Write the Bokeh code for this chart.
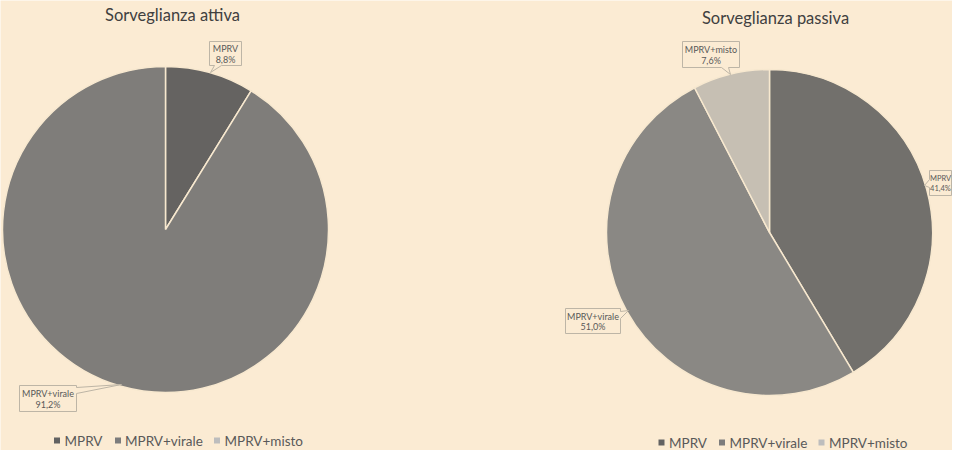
import math
from bokeh.plotting import figure
from bokeh.models import Range1d, ColumnDataSource
from bokeh.core.properties import value
from bokeh.embed import file_html
from bokeh.resources import INLINE

# ---------------- data ----------------
categories = ["MPRV", "MPRV+virale", "MPRV+misto"]
attiva = [8.8, 91.2, 0.0]
passiva = [41.4, 51.0, 7.6]
titles = ["Sorveglianza attiva", "Sorveglianza passiva"]

# ---------------- style ----------------
BG = "#fbebd3"
colors_attiva = ["#656361", "#7f7d7a", "#c6bfb3"]
colors_passiva = ["#72706c", "#8a8884", "#c6bfb3"]
legend_colors = ["#626262", "#7c7c7c", "#bdbdbd"]
TXT = "#595959"
FONT = "Lato"

W, H = 952, 450


def Y(pix):
    return 466 - pix


p = figure(width=W, height=H, output_backend="svg", toolbar_location=None,
           x_range=Range1d(8, 960), y_range=Range1d(8, 458),
           background_fill_color=BG, border_fill_color=BG, min_border=0)
p.axis.visible = False
p.grid.visible = False
p.outline_line_color = None


def pie(cx, cy, r, vals, cols):
    total = sum(vals)
    starts, ends, cc = [], [], []
    cum = 0.0
    for v, c in zip(vals, cols):
        c0 = cum / total
        cum += v
        c1 = cum / total
        if v <= 0:
            continue
        starts.append(math.pi / 2 - 2 * math.pi * c1)
        ends.append(math.pi / 2 - 2 * math.pi * c0)
        cc.append(c)
    src = ColumnDataSource(dict(x=[cx] * len(cc), y=[Y(cy)] * len(cc),
                                s=starts, e=ends, c=cc))
    p.wedge(x="x", y="y", radius=r, start_angle="s", end_angle="e",
            fill_color="c", line_color="#f7e8cf", line_width=1.5, source=src)


pie(173, 237, 163, attiva, colors_attiva)
pie(777, 240, 163, passiva, colors_passiva)

# titles
p.text(x=[180, 783], y=[Y(22), Y(25)], text=titles, text_font=value(FONT),
       text_font_size="16.5px", text_color="#404040", text_align="center",
       text_baseline="middle")


def fmt(v):
    return f"{v:.1f}".replace(".", ",") + "%"


def callout(box, side, tip, a, b, name, val, fs="9px"):
    x0, y0, x1, y1 = box
    tx, ty = tip
    if side == "bottom":
        pts = [(x0, y0), (x1, y0), (x1, y1), (b, y1), (tx, ty), (a, y1), (x0, y1)]
    elif side == "right":
        pts = [(x0, y0), (x1, y0), (x1, a), (tx, ty), (x1, b), (x1, y1), (x0, y1)]
    else:
        pts = [(x0, y0), (x1, y0), (x1, y1), (x0, y1), (x0, b), (tx, ty), (x0, a)]
    p.patch([q[0] for q in pts], [Y(q[1]) for q in pts], fill_color=BG,
            line_color="#bdb5a6", line_width=1)
    cxm = (x0 + x1) / 2
    cym = (y0 + y1) / 2
    p.text(x=[cxm, cxm], y=[Y(cym - 5), Y(cym + 5.5)], text=[name, fmt(val)],
           text_font=value(FONT), text_font_size=fs, text_color=TXT,
           text_align="center", text_baseline="middle")


# attiva labels
callout((217, 49, 249, 73), "bottom", (218, 80), 222, 229, categories[0], attiva[0])
callout((27, 393, 84, 419), "right", (129, 392), 395, 401, categories[1], attiva[1])
# passiva labels
callout((690, 49, 747, 75), "bottom", (738, 82), 729, 736, categories[2], passiva[2])
callout((573, 316, 628, 341), "right", (636, 318), 319, 326, categories[1], passiva[1])
callout((937, 178, 959, 203), "left", (932, 193), 187, 195, categories[0], passiva[0], "7.5px")


# legends
def legend(xs_sq, xs_txt, ypix):
    p.scatter(x=xs_sq, y=[Y(ypix)] * 3, marker="square", size=6,
              fill_color=legend_colors, line_color=None)
    p.text(x=xs_txt, y=[Y(ypix)] * 3, text=categories, text_font=value(FONT),
           text_font_size="13.5px", text_color=TXT, text_align="left",
           text_baseline="middle")


legend([64.5, 125.5, 224.5], [72, 132.5, 232], 448)
legend([669, 729.5, 829], [676.5, 737, 836.5], 450)

open("out.html", "w").write(file_html(p, INLINE))
